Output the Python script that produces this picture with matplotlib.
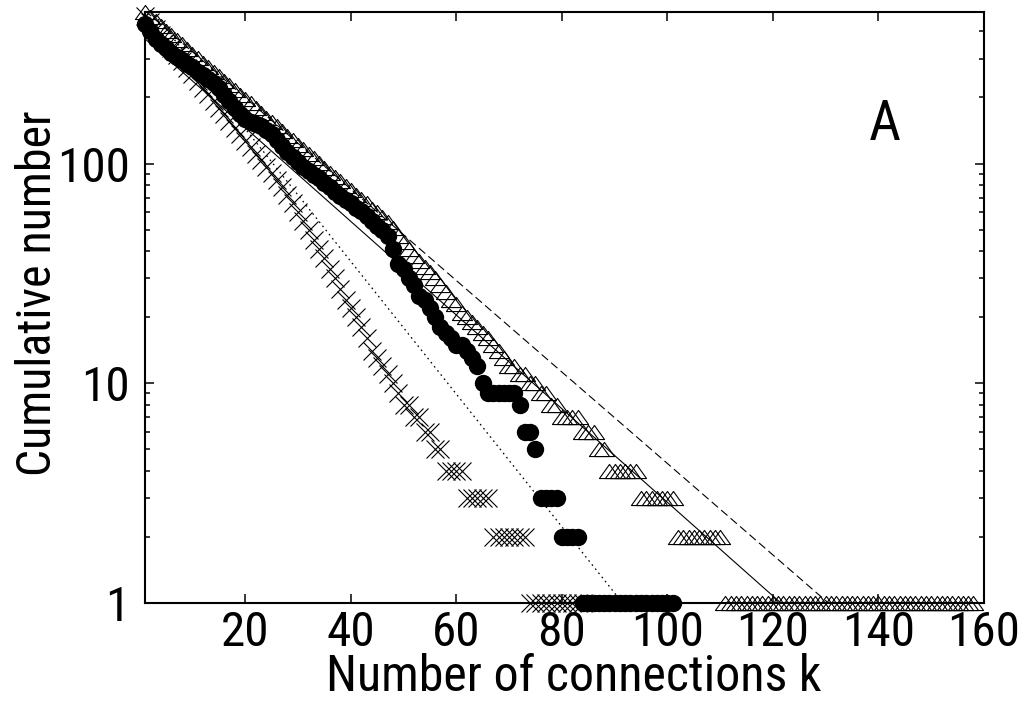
import numpy as np
import matplotlib
matplotlib.use("Agg")
import matplotlib.pyplot as plt
from matplotlib.path import Path
from matplotlib import font_manager
from matplotlib.ticker import FixedLocator, FixedFormatter, LogLocator, NullFormatter

# cumulative number of nodes with >= k connections
circle_k = np.arange(1, 102)
circle_n = ([430, 400, 370, 350, 335, 320, 305, 295, 285, 275,
             262, 252, 242, 232, 220, 205, 192, 180, 168, 160,
             155, 152, 148, 142, 136, 128, 120, 113, 107, 102,
             97, 93, 89, 86, 82, 78, 74, 71, 68, 66,
             63, 61, 58, 55, 52, 50, 47,
             41, 35, 33, 30, 28, 25, 24, 22, 20, 18, 17, 16, 15, 15, 14, 13, 12, 10]
            + [9] * 6 + [8] + [6] * 2 + [5] + [3] * 4 + [2] * 4 + [1] * 18)

tri_k = np.arange(1, 159)
tri_n = ([488, 465, 444, 423, 403, 384, 366, 349, 333, 317,
          302, 288, 275, 262, 250, 238, 227, 216, 206, 197,
          188, 179, 170, 162, 155, 148, 141, 134, 128, 122,
          116, 111, 106, 101, 96, 91, 87, 83, 79, 76,
          72, 69, 66, 62, 60, 57, 54, 51, 47, 44,
          41, 38, 36, 34, 32, 30, 28, 26, 24, 23,
          21, 20, 19, 18, 17, 16, 15, 14, 13, 12,
          12, 11, 11, 10, 10, 9, 9, 8, 8]
         + [7] * 4 + [6] * 3 + [5] * 2 + [4] * 6 + [3] * 7 + [2] * 9 + [1] * 48)

cross_k = np.arange(1, 85)
cross_n = ([470, 440, 410, 385, 360, 335, 312, 292, 272, 255,
            238, 222, 207, 193, 180, 168, 157, 146, 136, 127,
            119, 111, 104, 97, 91, 84, 78, 72, 66, 60,
            55, 50, 45, 41, 37, 33, 30, 27, 24, 22,
            20, 18, 16, 14, 13, 12, 11, 10, 9, 8,
            8, 7, 7, 6, 6, 5, 5]
           + [4] * 4 + [3] * 5 + [2] * 7 + [1] * 11)

# exponential fits (straight on the log axis), end points
solid_k = [1, 121.5]
solid_n = [370, 1]
dashed_k = [1, 130.5]
dashed_n = [497, 1]
dotted_k = [1, 91.5]
dotted_n = [540, 1]

x_ticks = [20, 40, 60, 80, 100, 120, 140, 160]
y_ticks = [1, 10, 100]
y_labels = ["1", "10", "100"]

# narrow sans if one is there, else plain Liberation Sans sized to the widths
names = {f.name for f in font_manager.fontManager.ttflist}
if "Liberation Sans Narrow" in names:
    fam, xfs, yfs, tfs = "Liberation Sans Narrow", 38, 37, 37
elif "Roboto Condensed" in names:
    fam, xfs, yfs, tfs = "Roboto Condensed", 36, 34.5, 35.5
else:
    fam, xfs, yfs, tfs = "Liberation Sans", 32, 31, 31
plt.rcParams["font.family"] = [fam, "DejaVu Sans"]
plt.rcParams["lines.scale_dashes"] = False

fig = plt.figure(figsize=(10.29, 7.07), dpi=100)
ax = fig.add_axes([145 / 1029, 104 / 707, 839 / 1029, 591 / 707])

ax.plot(solid_k, solid_n, color="black", lw=0.8, ls="-")
ax.plot(dashed_k, dashed_n, color="black", lw=0.8, ls=(0, (6, 3)))
ax.plot(dotted_k, dotted_n, color="black", lw=0.9, ls=(0, (1.2, 2.6)))

tri = Path([(0, 0.7), (-1, -0.7), (1, -0.7), (0, 0.7)],
           [Path.MOVETO, Path.LINETO, Path.LINETO, Path.CLOSEPOLY])

ax.plot(cross_k, cross_n, ls="none", marker="x", ms=13.5, mew=0.8,
        color="black", clip_on=False)
ax.plot(tri_k, tri_n, ls="none", marker=tri, ms=14.5, mew=0.8,
        mfc="none", mec="black", clip_on=False)
ax.plot(circle_k, circle_n, ls="none", marker="o", ms=12.5, mew=0,
        color="black", clip_on=False)

ax.set_yscale("log")
ax.set_xlim(1, 160)
ax.set_ylim(1, 490)

ax.xaxis.set_major_locator(FixedLocator(x_ticks))
ax.yaxis.set_major_locator(FixedLocator(y_ticks))
ax.yaxis.set_major_formatter(FixedFormatter(y_labels))
ax.yaxis.set_minor_locator(LogLocator(base=10, subs=np.arange(2, 10)))
ax.yaxis.set_minor_formatter(NullFormatter())

ax.tick_params(which="both", direction="in", top=True, right=True,
               width=1.1, labelsize=tfs)
ax.tick_params(which="major", length=6.5)
ax.tick_params(axis="x", which="major", pad=5)
ax.tick_params(axis="y", which="major", pad=11)
ax.tick_params(which="minor", length=3.6)
for s in ax.spines.values():
    s.set_linewidth(1.5)

ax.set_xlabel("Number of connections k", fontsize=xfs)
ax.set_ylabel("Cumulative number", fontsize=yfs)
ax.xaxis.set_label_coords(0.511, -0.085)
ax.yaxis.set_label_coords(-0.1, 0.525)

ax.text(0.882, 0.809, "A", transform=ax.transAxes, fontsize=xfs + 4,
        ha="center", va="center")

fig.savefig("out.png", dpi=100)
